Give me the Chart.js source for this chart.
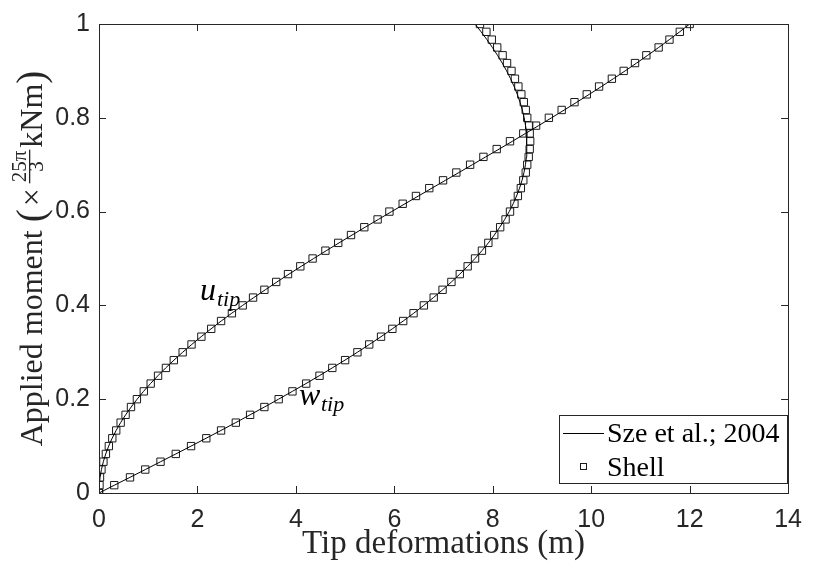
<!DOCTYPE html>
<html>
<head>
<meta charset="utf-8">
<script src="https://cdn.jsdelivr.net/npm/chart.js@4.4.1/dist/chart.umd.min.js"></script>
<style>
    html, body { margin: 0; padding: 0; background: #fff; }
    #wrap { width: 814px; height: 570px; }
</style>
</head>
<body>
<div id="wrap"><canvas id="tipChart" width="814" height="570"></canvas></div>
<script>
// load steps (applied moment / max)
const loadSteps = [0, 0.0167, 0.0333, 0.05, 0.0667, 0.0833, 0.1, 0.1167, 0.1333, 0.15,
    0.1667, 0.1833, 0.2, 0.2167, 0.2333, 0.25, 0.2667, 0.2833, 0.3, 0.3167,
    0.3333, 0.35, 0.3667, 0.3833, 0.4, 0.4167, 0.4333, 0.45, 0.4667, 0.4833,
    0.5, 0.5167, 0.5333, 0.55, 0.5667, 0.5833, 0.6, 0.6167, 0.6333, 0.65,
    0.6667, 0.6833, 0.7, 0.7167, 0.7333, 0.75, 0.7667, 0.7833, 0.8, 0.8167,
    0.8333, 0.85, 0.8667, 0.8833, 0.9, 0.9167, 0.9333, 0.95, 0.9667, 0.9833, 1];

// Sze et al.; 2004 reference curves
const szeU = [0, 0.005, 0.022, 0.049, 0.088, 0.137, 0.196, 0.267, 0.348, 0.439,
    0.541, 0.653, 0.774, 0.905, 1.046, 1.196, 1.355, 1.523, 1.699, 1.884,
    2.076, 2.276, 2.483, 2.697, 2.918, 3.145, 3.378, 3.616, 3.860, 4.108,
    4.361, 4.617, 4.877, 5.141, 5.407, 5.675, 5.945, 6.217, 6.490, 6.764,
    7.038, 7.312, 7.585, 7.858, 8.129, 8.399, 8.666, 8.931, 9.194, 9.453,
    9.708, 9.960, 10.207, 10.450, 10.689, 10.922, 11.149, 11.371, 11.587, 11.797, 12.000];
const szeW = [0, 0.314, 0.628, 0.941, 1.252, 1.562, 1.870, 2.175, 2.477, 2.776,
    3.070, 3.361, 3.647, 3.929, 4.205, 4.475, 4.739, 4.997, 5.248, 5.493,
    5.730, 5.959, 6.180, 6.394, 6.598, 6.795, 6.982, 7.160, 7.330, 7.489,
    7.639, 7.780, 7.911, 8.031, 8.142, 8.243, 8.334, 8.414, 8.484, 8.544,
    8.594, 8.634, 8.664, 8.684, 8.694, 8.694, 8.685, 8.666, 8.638, 8.600,
    8.553, 8.498, 8.434, 8.361, 8.281, 8.192, 8.096, 7.992, 7.881, 7.764, 7.639];

// Shell results (markers)
const shellU = [0, 0.01, 0.02, 0.05, 0.09, 0.14, 0.20, 0.27, 0.35, 0.44,
    0.54, 0.65, 0.77, 0.91, 1.05, 1.20, 1.36, 1.52, 1.70, 1.88,
    2.08, 2.28, 2.48, 2.70, 2.92, 3.13, 3.36, 3.60, 3.84, 4.09,
    4.34, 4.60, 4.86, 5.12, 5.39, 5.66, 5.90, 6.17, 6.44, 6.71,
    6.99, 7.26, 7.54, 7.81, 8.08, 8.35, 8.62, 8.88, 9.14, 9.40,
    9.66, 9.91, 10.16, 10.42, 10.66, 10.89, 11.12, 11.37, 11.59, 11.80, 12.00];
const shellW = [0, 0.31, 0.63, 0.94, 1.25, 1.56, 1.87, 2.18, 2.48, 2.78,
    3.07, 3.36, 3.65, 3.93, 4.21, 4.48, 4.74, 5.00, 5.25, 5.49,
    5.73, 5.96, 6.18, 6.39, 6.60, 6.80, 6.98, 7.16, 7.33, 7.49,
    7.64, 7.78, 7.91, 8.03, 8.15, 8.26, 8.35, 8.44, 8.51, 8.57,
    8.62, 8.67, 8.70, 8.73, 8.75, 8.76, 8.75, 8.74, 8.70, 8.67,
    8.63, 8.58, 8.52, 8.45, 8.38, 8.29, 8.20, 8.09, 7.98, 7.87, 7.74];

const xTicks = [0, 2, 4, 6, 8, 10, 12, 14];
const xTickLabels = ['0', '2', '4', '6', '8', '10', '12', '14'];
const yTicks = [0, 0.2, 0.4, 0.6, 0.8, 1];
const yTickLabels = ['0', '0.2', '0.4', '0.6', '0.8', '1'];

const axisColor = '#262626';
const serif = '"Liberation Serif", "DejaVu Serif", serif';
const sans = '"Liberation Sans", Arial, sans-serif';

function toPoints(xs, ys) {
    return xs.map((x, i) => ({x: x, y: ys[i]}));
}

// y title: Applied moment (× 25π/3 kNm), drawn along the rotated baseline
function drawYTitle(ctx, cx, cy) {
    const big = '32px ' + serif;
    const paren = '39px ' + serif;
    const small = '21px ' + serif;
    const parts = [
        {t: 'Applied moment ', f: big},
        {t: '(', f: paren, dy: 2},
        {t: '\u00d7', f: big, pad: 3},
        {frac: true, pad: 2},
        {t: 'kNm', f: big},
        {t: ')', f: paren, dy: 2}
    ];
    ctx.font = small;
    const fracW = ctx.measureText('25\u03c0').width + 2;
    let total = 0;
    parts.forEach(p => {
        if (p.frac) { p.w = fracW; }
        else { ctx.font = p.f; p.w = ctx.measureText(p.t).width; }
        total += p.w + (p.pad || 0) * 2;
    });
    ctx.save();
    ctx.translate(cx, cy);
    ctx.rotate(-Math.PI / 2);
    ctx.textAlign = 'left';
    ctx.textBaseline = 'alphabetic';
    let x = -total / 2;
    parts.forEach(p => {
        x += p.pad || 0;
        if (p.frac) {
            ctx.font = small;
            ctx.textAlign = 'center';
            ctx.fillText('25\u03c0', x + p.w / 2, -16);
            ctx.fillText('3', x + p.w / 2, 1);
            ctx.fillRect(x, -13, p.w, 1.3);
            ctx.textAlign = 'left';
        } else {
            ctx.font = p.f;
            ctx.fillText(p.t, x, p.dy || 0);
        }
        x += p.w + (p.pad || 0);
    });
    ctx.restore();
}

// box, inner ticks, titles, curve labels and legend
const matlabFrame = {
    id: 'matlabFrame',
    afterDatasetsDraw(chart) {
        const {ctx, chartArea: a, scales} = chart;
        const tl = 7;
        ctx.save();
        ctx.strokeStyle = axisColor;
        ctx.lineWidth = 1;
        ctx.beginPath();
        xTicks.forEach(v => {
            const px = Math.round(scales.x.getPixelForValue(v)) + 0.5;
            ctx.moveTo(px, a.bottom); ctx.lineTo(px, a.bottom - tl);
            ctx.moveTo(px, a.top); ctx.lineTo(px, a.top + tl);
        });
        yTicks.forEach(v => {
            const py = Math.round(scales.y.getPixelForValue(v)) + 0.5;
            ctx.moveTo(a.left, py); ctx.lineTo(a.left + tl, py);
            ctx.moveTo(a.right, py); ctx.lineTo(a.right - tl, py);
        });
        ctx.stroke();
        ctx.strokeRect(Math.round(a.left) + 0.5, Math.round(a.top) + 0.5,
            Math.round(a.right - a.left), Math.round(a.bottom - a.top));

        // curve labels
        ctx.fillStyle = '#000';
        ctx.textBaseline = 'alphabetic';
        ctx.textAlign = 'left';
        ctx.font = 'italic 32px ' + serif;
        ctx.fillText('u', 200, 300);
        ctx.fillText('w', 299, 405);
        ctx.font = 'italic 22px ' + serif;
        ctx.fillText('tip', 217, 306);
        ctx.fillText('tip', 321, 411);

        // legend
        const lx = 559, ly = 415, lw = 228, lh = 68;
        ctx.fillStyle = '#fff';
        ctx.fillRect(lx, ly, lw, lh);
        ctx.strokeStyle = axisColor;
        ctx.strokeRect(lx + 0.5, ly + 0.5, lw, lh);
        ctx.strokeStyle = '#000';
        ctx.beginPath();
        ctx.moveTo(563, 433.5); ctx.lineTo(604, 433.5);
        ctx.stroke();
        ctx.strokeStyle = '#1a1a1a';
        ctx.strokeRect(580.5, 463.5, 6, 6);
        ctx.fillStyle = '#000';
        ctx.font = '28px ' + serif;
        ctx.fillText('Sze et al.; 2004', 607, 442);
        ctx.fillText('Shell', 607, 476);

        // x title
        ctx.textAlign = 'center';
        ctx.fillStyle = axisColor;
        ctx.font = '33px ' + serif;
        ctx.fillText('Tip deformations (m)', (a.left + a.right) / 2, 553);

        // y title
        drawYTitle(ctx, 42, (a.top + a.bottom) / 2);
        ctx.restore();
    }
};

const chartData = {
    datasets: [
        {
            label: 'Sze et al.; 2004',
            data: toPoints(szeU, loadSteps),
            showLine: true,
            borderColor: '#000',
            borderWidth: 1,
            pointRadius: 0,
            tension: 0
        },
        {
            label: 'Sze et al.; 2004 (w)',
            data: toPoints(szeW, loadSteps),
            showLine: true,
            borderColor: '#000',
            borderWidth: 1,
            pointRadius: 0,
            tension: 0
        },
        {
            label: 'Shell',
            data: toPoints(shellU, loadSteps),
            showLine: false,
            pointStyle: 'rect',
            pointRadius: 5.2,
            pointBorderWidth: 1,
            pointBorderColor: '#1a1a1a',
            pointBackgroundColor: 'rgba(0,0,0,0)'
        },
        {
            label: 'Shell (w)',
            data: toPoints(shellW, loadSteps),
            showLine: false,
            pointStyle: 'rect',
            pointRadius: 5.2,
            pointBorderWidth: 1,
            pointBorderColor: '#1a1a1a',
            pointBackgroundColor: 'rgba(0,0,0,0)'
        }
    ]
};

const chartOptions = {
    responsive: false,
    animation: false,
    layout: {
        padding: {top: 16, right: 17, left: 0, bottom: 0}
    },
    plugins: {
        legend: {display: false},
        tooltip: {enabled: false}
    },
    scales: {
        x: {
            type: 'linear',
            min: 0,
            max: 14,
            afterFit: s => { s.height = 77; },
            afterBuildTicks: s => { s.ticks = xTicks.map(v => ({value: v})); },
            grid: {display: false, drawTicks: false},
            border: {display: false},
            ticks: {
                padding: 12,
                color: axisColor,
                font: {family: sans, size: 25},
                callback: (v, i) => xTickLabels[i]
            }
        },
        y: {
            type: 'linear',
            min: 0,
            max: 1,
            afterFit: s => { s.width = 99; },
            afterBuildTicks: s => { s.ticks = yTicks.map(v => ({value: v})); },
            grid: {display: false, drawTicks: false},
            border: {display: false},
            ticks: {
                padding: 9,
                color: axisColor,
                font: {family: sans, size: 25},
                callback: (v, i) => yTickLabels[i]
            }
        }
    }
};

const tipChart = new Chart(document.getElementById('tipChart'), {
    type: 'scatter',
    data: chartData,
    options: chartOptions,
    plugins: [matlabFrame]
});
</script>
</body>
</html>
